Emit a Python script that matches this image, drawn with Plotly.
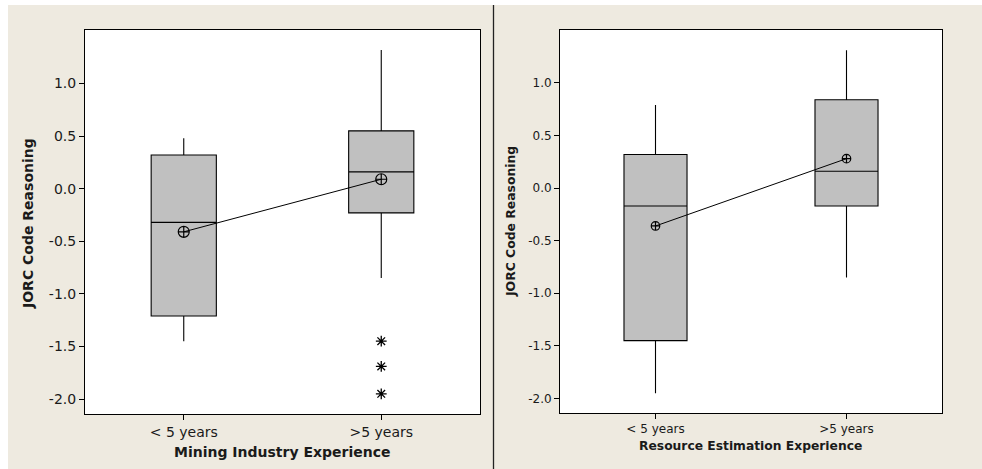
import plotly.graph_objects as go

# ---- data ----
categories = ["< 5 years", ">5 years"]

mining_q1 = [-1.21, -0.23]
mining_median = [-0.32, 0.16]
mining_q3 = [0.32, 0.55]
mining_lower = [-1.45, -0.85]
mining_upper = [0.48, 1.32]
mining_mean = [-0.41, 0.09]
mining_outlier_cat = [">5 years", ">5 years", ">5 years"]
mining_outliers = [-1.45, -1.69, -1.95]

resource_q1 = [-1.45, -0.17]
resource_median = [-0.17, 0.16]
resource_q3 = [0.32, 0.84]
resource_lower = [-1.95, -0.85]
resource_upper = [0.79, 1.31]
resource_mean = [-0.36, 0.28]

y_tickvals = [1.0, 0.5, 0.0, -0.5, -1.0, -1.5, -2.0]
y_ticktext = ["1.0", "0.5", "0.0", "-0.5", "-1.0", "-1.5", "-2.0"]

left_xtitle = "Mining Industry Experience"
right_xtitle = "Resource Estimation Experience"
ytitle = "JORC Code Reasoning"

# ---- styling ----
W, H = 982, 469
BEIGE = "#EEEAE0"
BOXFILL = "#C0C0C0"
FONT = "DejaVu Sans"
TXT = "#1a1a1a"


def px(x):
    return x / W


def py(y):
    return 1 - y / H


fig = go.Figure()

box_style = dict(fillcolor=BOXFILL, line=dict(color="black", width=1.1),
                 whiskerwidth=0, width=0.33, boxpoints=False, showlegend=False,
                 hoverinfo="skip")

fig.add_trace(go.Box(x=categories, q1=mining_q1, median=mining_median, q3=mining_q3,
                     lowerfence=mining_lower, upperfence=mining_upper,
                     xaxis="x", yaxis="y", **box_style))
fig.add_trace(go.Scatter(x=categories, y=mining_mean, mode="lines+markers",
                         line=dict(color="black", width=1),
                         marker=dict(symbol="circle-cross-open", size=11, color="black",
                                     line=dict(width=1.2, color="black")),
                         showlegend=False, xaxis="x", yaxis="y"))
fig.add_trace(go.Scatter(x=mining_outlier_cat, y=mining_outliers, mode="markers",
                         marker=dict(symbol="asterisk-open", size=9, color="black",
                                     line=dict(width=1.3, color="black")),
                         showlegend=False, xaxis="x", yaxis="y"))

fig.add_trace(go.Box(x=categories, q1=resource_q1, median=resource_median, q3=resource_q3,
                     lowerfence=resource_lower, upperfence=resource_upper,
                     xaxis="x2", yaxis="y2", **box_style))
fig.add_trace(go.Scatter(x=categories, y=resource_mean, mode="lines+markers",
                         line=dict(color="black", width=1),
                         marker=dict(symbol="circle-cross-open", size=8.5, color="black",
                                     line=dict(width=1.2, color="black")),
                         showlegend=False, xaxis="x2", yaxis="y2"))


def xaxis(domain, size, anchor):
    return dict(domain=domain, anchor=anchor, type="category", range=[-0.5, 1.5],
                showline=True, mirror=True, linecolor="black", linewidth=1,
                ticks="outside", ticklen=5, tickcolor="black", showgrid=False,
                zeroline=False, tickfont=dict(family=FONT, size=size, color=TXT),
                categoryorder="array", categoryarray=categories)


def yaxis(domain, size, rng, anchor):
    return dict(domain=domain, anchor=anchor, range=rng,
                showline=True, mirror=True, linecolor="black", linewidth=1,
                ticks="outside", ticklen=5, tickcolor="black", showgrid=False,
                zeroline=False, tickvals=y_tickvals, ticktext=y_ticktext,
                tickfont=dict(family=FONT, size=size, color=TXT))


fig.update_layout(
    width=W, height=H, margin=dict(l=0, r=0, t=0, b=0),
    paper_bgcolor=BEIGE, plot_bgcolor="white",
    xaxis=xaxis([px(85), px(480)], 14, "y"),
    yaxis=yaxis([py(414), py(30)], 14, [-2.142, 1.509], "x"),
    xaxis2=xaxis([px(560), px(942)], 12, "y2"),
    yaxis2=yaxis([py(413), py(30)], 12, [-2.138, 1.503], "x2"),
    shapes=[
        # white page strips above and left of the beige panel
        dict(type="rect", xref="paper", yref="paper", x0=0, x1=1, y0=py(5), y1=1,
             fillcolor="white", line=dict(width=0), layer="below"),
        dict(type="rect", xref="paper", yref="paper", x0=0, x1=px(8), y0=0, y1=1,
             fillcolor="white", line=dict(width=0), layer="below"),
        dict(type="line", xref="paper", yref="paper", x0=px(493.5), x1=px(493.5),
             y0=0, y1=py(5), line=dict(color="#222222", width=1.3), layer="below"),
    ],
    annotations=[
        dict(text=left_xtitle, xref="paper", yref="paper", x=px(282), y=py(452),
             xanchor="center", yanchor="middle", showarrow=False,
             font=dict(family=FONT, size=14, color=TXT, weight="bold")),
        dict(text=right_xtitle, xref="paper", yref="paper", x=px(750), y=py(446),
             xanchor="center", yanchor="middle", showarrow=False,
             font=dict(family=FONT, size=12.3, color=TXT, weight="bold")),
        dict(text=ytitle, xref="paper", yref="paper", x=px(28), y=py(224),
             xanchor="center", yanchor="middle", showarrow=False, textangle=-90,
             font=dict(family=FONT, size=14, color=TXT, weight="bold")),
        dict(text=ytitle, xref="paper", yref="paper", x=px(511), y=py(222),
             xanchor="center", yanchor="middle", showarrow=False, textangle=-90,
             font=dict(family=FONT, size=12.4, color=TXT, weight="bold")),
    ],
)

fig.write_html("out.html", config={"displayModeBar": False},
               post_script="document.body.style.margin='0';")
